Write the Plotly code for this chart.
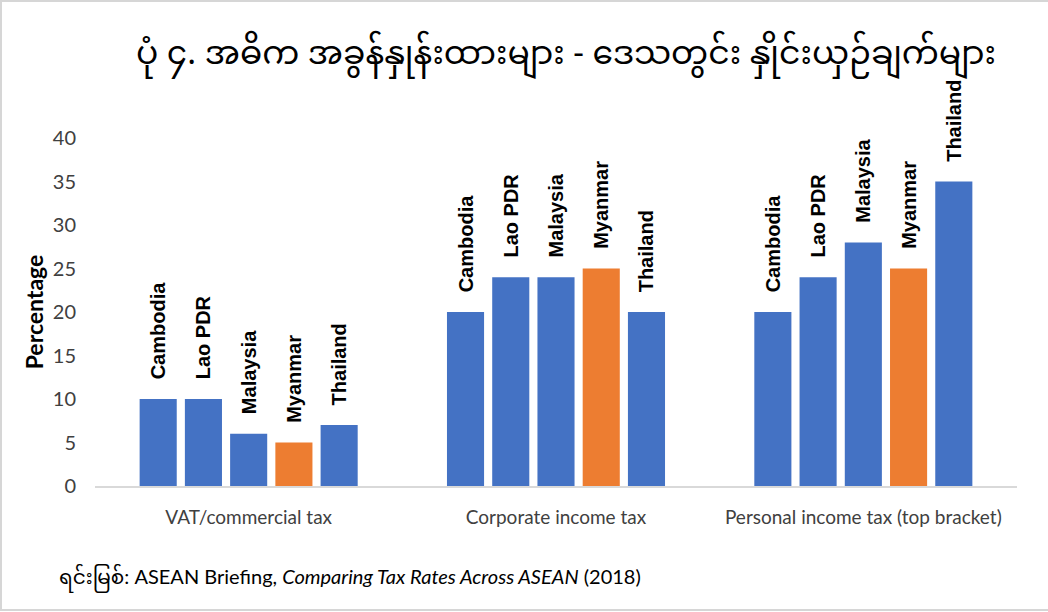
import plotly.graph_objects as go

# Tax categories (x axis) and countries (one bar trace each)
categories = ["VAT/commercial tax", "Corporate income tax", "Personal income tax (top bracket)"]
countries = ["Cambodia", "Lao PDR", "Malaysia", "Myanmar", "Thailand"]

# Rates in percent, per country, in category order
cambodia = [10, 20, 20]
lao_pdr = [10, 24, 24]
malaysia = [6, 24, 28]
myanmar = [5, 25, 25]
thailand = [7, 20, 35]

y_ticks = [0, 5, 10, 15, 20, 25, 30, 35, 40]

title_text = "ပုံ ၄. အဓိက အခွန်နှုန်းထားများ - ဒေသတွင်း နှိုင်းယှဉ်ချက်များ"
source_text = "ရင်းမြစ်: ASEAN Briefing, <i>Comparing Tax Rates Across ASEAN</i> (2018)"

series = [cambodia, lao_pdr, malaysia, myanmar, thailand]
BLUE = "#4472C4"
ORANGE = "#ED7D31"

W, H = 1048, 612
L, R, T, B = 95, 31, 138, 126
PW, PH = W - L - R, H - T - B

# non-breaking spaces lift the rotated bar labels a little off the bar tops
LABEL_PAD = "\u00a0" * 3


def px_x(px):
    return (px - L) / PW


def px_y(py):
    return (H - B - py) / PH


fig = go.Figure()
for name, vals in zip(countries, series):
    fig.add_trace(go.Bar(
        x=categories,
        y=vals,
        name=name,
        marker=dict(color=ORANGE if name == "Myanmar" else BLUE, line=dict(width=0)),
        text=[LABEL_PAD + name] * len(vals),
        textposition="outside",
        textangle=-90,
        constraintext="none",
        cliponaxis=False,
        textfont=dict(family="Liberation Sans", size=20, color="#000000", weight="bold"),
        hoverinfo="x+y+name",
    ))

fig.update_layout(
    width=W,
    height=H,
    margin=dict(l=L, r=R, t=T, b=B),
    paper_bgcolor="white",
    plot_bgcolor="white",
    barmode="group",
    bargap=0.264,
    bargroupgap=0.18,
    showlegend=False,
    font=dict(family="Lato", color="#404040"),
    title=dict(
        text=title_text,
        x=px_x(566),
        xref="paper",
        xanchor="center",
        y=(H - 52) / H,
        yanchor="middle",
        font=dict(family="Noto Sans Myanmar, Padauk, Myanmar Text, Noto Sans", size=33, color="#000000"),
    ),
    xaxis=dict(
        showline=True,
        linecolor="#D9D9D9",
        linewidth=2,
        ticks="",
        showgrid=False,
        tickfont=dict(family="Lato", size=19, color="#404040"),
        ticklabelstandoff=13,
    ),
    yaxis=dict(
        range=[0, 40],
        tickvals=y_ticks,
        showline=False,
        showgrid=False,
        zeroline=False,
        ticks="",
        tickfont=dict(family="Lato", size=20, color="#404040"),
        ticklabelstandoff=18,
        title=dict(
            text="Percentage",
            font=dict(family="Lato", size=23, color="#000000", weight="bold"),
            standoff=2,
        ),
    ),
    annotations=[
        dict(
            text=source_text,
            xref="paper",
            yref="paper",
            x=px_x(57),
            y=px_y(578),
            xanchor="left",
            yanchor="middle",
            showarrow=False,
            font=dict(family="Lato, Noto Sans Myanmar, Padauk", size=20, color="#000000"),
        )
    ],
    shapes=[
        dict(
            type="rect",
            xref="paper",
            yref="paper",
            x0=px_x(1),
            x1=px_x(1052),
            y0=px_y(1),
            y1=px_y(610),
            line=dict(color="#D6D6D6", width=2),
            fillcolor="rgba(0,0,0,0)",
            layer="below",
        )
    ],
)

fig.write_html("out.html")
